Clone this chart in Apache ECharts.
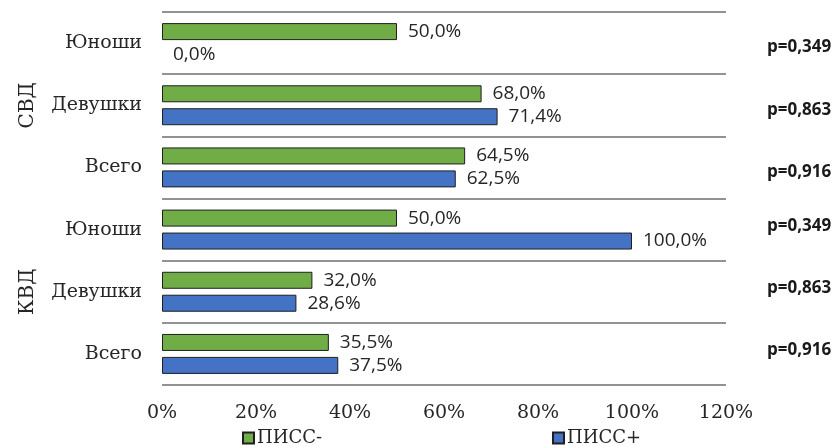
<!DOCTYPE html>
<html><head><meta charset="utf-8">
<script src="https://cdn.jsdelivr.net/npm/echarts@6/dist/echarts.min.js"></script>
<style>html,body{margin:0;padding:0;background:#fff}#c{width:835px;height:446px}</style>
</head><body><div id="c"></div>
<script>
const groups = ['СВД', 'СВД', 'СВД', 'КВД', 'КВД', 'КВД'];
const categories = ['Юноши', 'Девушки', 'Всего', 'Юноши', 'Девушки', 'Всего'];
const pissMinus = [50.0, 68.0, 64.5, 50.0, 32.0, 35.5];
const pissPlus = [0.0, 71.4, 62.5, 100.0, 28.6, 37.5];
const pValues = ['p=0,349', 'p=0,863', 'p=0,916', 'p=0,349', 'p=0,863', 'p=0,916'];
const xTicks = [0, 20, 40, 60, 80, 100, 120];
const seriesNames = ['ПИСС-', 'ПИСС+'];

const keys = categories.map((c, i) => groups[i] + '|' + c);
const serif = '"DejaVu Serif", serif';
const sans = '"Open Sans", sans-serif';
const fmt = v => v.toFixed(1).replace('.', ',') + '%';
const toItems = arr => arr.map(v => v === 0 ? {value: v, itemStyle: {borderWidth: 0}} : v);

const chart = echarts.init(document.getElementById('c'), null, {renderer: 'canvas'});
const labelCfg = {show: true, position: 'right', distance: 11, color: '#262626', fontFamily: sans, fontSize: 19,
  formatter: p => fmt(p.value)};
const legendText = {fontFamily: serif, fontSize: 18, color: '#262626', padding: [0, 0, 0, -2]};
const pStyle = {fontFamily: sans, fontWeight: 'bold', fontSize: 17, color: '#1a1a1a'};
chart.setOption({
  animation: false,
  grid: {left: 162, right: 109, top: 12, bottom: 61},
  legend: [
    {left: 242, top: 429, padding: 0, itemWidth: 11, itemHeight: 11, icon: 'rect', data: [seriesNames[0]],
     textStyle: legendText},
    {left: 552, top: 429, padding: 0, itemWidth: 11, itemHeight: 11, icon: 'rect', data: [seriesNames[1]],
     textStyle: legendText}
  ],
  xAxis: {type: 'value', min: xTicks[0], max: xTicks[xTicks.length - 1], interval: xTicks[1] - xTicks[0],
    axisLine: {show: false}, axisTick: {show: false}, splitLine: {show: false},
    axisLabel: {formatter: v => v + '%', fontFamily: serif, fontSize: 19, color: '#262626', margin: 19}},
  yAxis: [
    {type: 'category', data: keys, inverse: true,
     axisLine: {show: false}, axisTick: {show: false},
     splitLine: {show: true, lineStyle: {color: '#6e6e6e', width: 1.5}},
     axisLabel: {formatter: v => v.split('|')[1], fontFamily: serif, fontSize: 19, color: '#262626', margin: 20}},
    {type: 'category', data: keys, inverse: true, position: 'right',
     axisLine: {show: false}, axisTick: {show: false}, splitLine: {show: false},
     axisLabel: {margin: 41,
       formatter: (v, i) => '{' + (i < 3 ? 'dn' : 'up') + '|' + pValues[i] + '}',
       rich: {dn: Object.assign({padding: [9, 0, 0, 0]}, pStyle), up: Object.assign({padding: [0, 0, 7, 0]}, pStyle)}}}
  ],
  series: [
    {name: seriesNames[0], type: 'bar', data: toItems(pissMinus), barWidth: 17, barGap: '35%',
     itemStyle: {color: '#70AD47', borderColor: '#1f1f1f', borderWidth: 1}, label: labelCfg},
    {name: seriesNames[1], type: 'bar', data: toItems(pissPlus), barWidth: 17, barGap: '35%',
     itemStyle: {color: '#4472C4', borderColor: '#1f1f1f', borderWidth: 1}, label: labelCfg}
  ]
});

const gY1 = chart.convertToPixel({yAxisIndex: 0}, keys[1]);
const gY2 = chart.convertToPixel({yAxisIndex: 0}, keys[4]);
chart.setOption({
  graphic: [
    {type: 'text', x: 28, y: gY1, rotation: Math.PI / 2,
     style: {text: groups[1], font: '20px ' + serif, fill: '#262626', textAlign: 'center', textVerticalAlign: 'middle'}},
    {type: 'text', x: 28, y: gY2, rotation: Math.PI / 2,
     style: {text: groups[4], font: '20px ' + serif, fill: '#262626', textAlign: 'center', textVerticalAlign: 'middle'}}
  ]
});
</script></body></html>
